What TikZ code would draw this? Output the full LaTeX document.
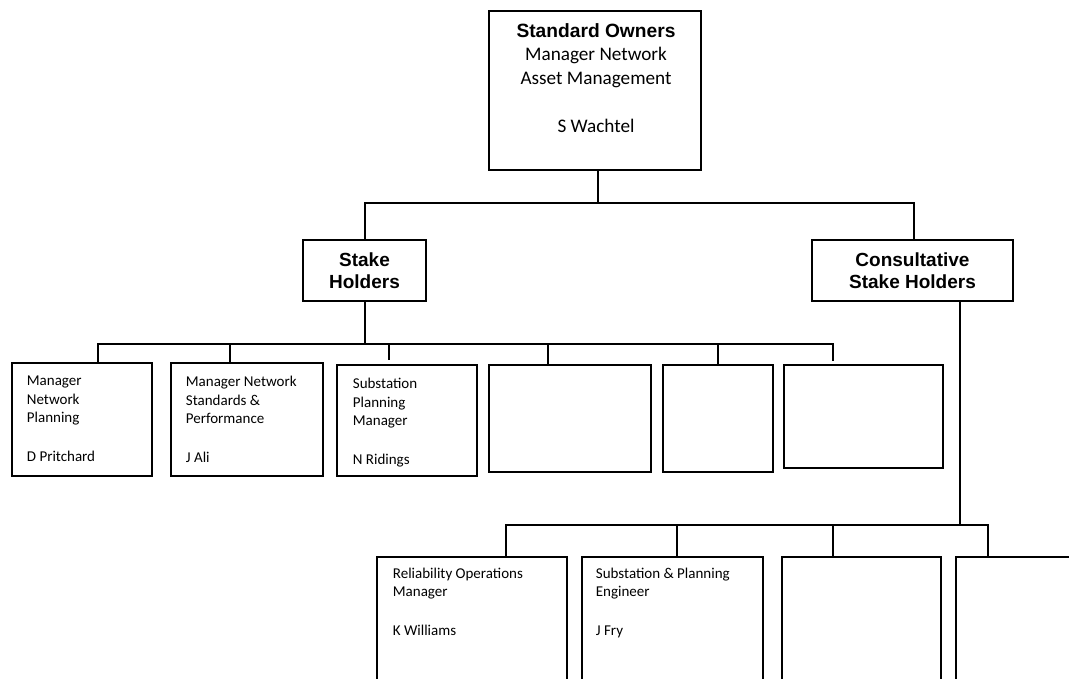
\documentclass[tikz,border=0pt]{standalone}
\usepackage{fontspec}
\setmainfont{Carlito}
\newfontfamily\headfont{Liberation Sans}
\begin{document}
\begin{tikzpicture}[x=1pt,y=-1pt,
  box/.style={draw, line width=2.6pt, inner sep=0pt},
  conn/.style={line width=2pt},
  txt/.style={font=\fontsize{15}{18.5}\selectfont, align=left, anchor=north west, inner sep=0pt},
  head/.style={font=\headfont\fontsize{19}{22}\selectfont\bfseries, align=center}]
\useasboundingbox (0,0) rectangle (1069,678);
\clip (0,0) rectangle (1069,678);
\fill[white] (0,0) rectangle (1069,678);
% top
\node[box, minimum width=212pt, minimum height=159pt] (top) at (595,90.5) {};
\node[font=\fontsize{19.2}{23.5}\selectfont, align=center, anchor=north, inner sep=0pt] (toptxt) at (596,20.5)
  {\strut{\headfont\bfseries Standard Owners}\\Manager Network\\Asset Management\\[25pt]S Wachtel};
% second level
\node[box, head, minimum width=123pt, minimum height=61pt] (sh) at (364.5,270.5) {Stake\\Holders};
\node[box, head, minimum width=201pt, minimum height=61pt] (csh) at (912.5,270.5) {Consultative\\Stake Holders};
% stakeholder row
\node[box, minimum width=140pt, minimum height=113pt] (b1) at (82,419.5) {};
\node[box, minimum width=152pt, minimum height=113pt] (b2) at (247,419.5) {};
\node[box, minimum width=140pt, minimum height=111pt] (b3) at (407,420.5) {};
\node[box, minimum width=162pt, minimum height=107pt] (b4) at (570,418.5) {};
\node[box, minimum width=110pt, minimum height=107pt] (b5) at (718,418.5) {};
\node[box, minimum width=159pt, minimum height=103pt] (b6) at (863.5,416.5) {};
\node[txt] (t1) at ([shift={(16,11)}]b1.north west) {\strut Manager\\Network\\Planning\\[20pt]D Pritchard};
\node[txt] (t2) at ([shift={(16,12)}]b2.north west) {\strut Manager Network\\Standards \&\\Performance\\[20pt]J Ali};
\node[txt] (t3) at ([shift={(17,12)}]b3.north west) {\strut Substation\\Planning\\Manager\\[20pt]N Ridings};
% consultative row
\node[box, minimum width=190pt, minimum height=162pt] (c1) at (472,638) {};
\node[box, minimum width=181pt, minimum height=162pt] (c2) at (672.5,638) {};
\node[box, minimum width=159pt, minimum height=162pt] (c3) at (861.5,638) {};
\node[box, minimum width=143pt, minimum height=162pt] (c4) at (1027.5,638) {};
\node[txt, font=\fontsize{15}{18}\selectfont] (u1) at ([shift={(17,10)}]c1.north west) {\strut Reliability Operations\\Manager\\[21pt]K Williams};
\node[txt, font=\fontsize{15}{18}\selectfont] (u2) at ([shift={(15,10)}]c2.north west) {\strut Substation \& Planning\\Engineer\\[21pt]J Fry};
% connectors
\draw[conn] ([xshift=3pt]top.south) -- ++(0,32) -| (sh.north);
\draw[conn] ([xshift=3pt]top.south) -- ++(0,32) -| ([xshift=1.5pt]csh.north);
\draw[conn] (sh.south) -- ++(0,42) -| ([xshift=16pt]b1.north);
\draw[conn] (sh.south) -- ++(0,42) -| ([xshift=-17pt]b2.north);
\draw[conn] (sh.south) -- ++(0,42) -| ([xshift=-18pt,yshift=4pt]b3.north);
\draw[conn] (sh.south) -- ++(0,42) -| ([xshift=-22pt]b4.north);
\draw[conn] (sh.south) -- ++(0,42) -| (b5.north);
\draw[conn] (sh.south) -- ++(0,42) -| ([xshift=-30.5pt,yshift=3pt]b6.north);
\draw[conn] ([xshift=47.5pt]csh.south) -- ++(0,223) -| ([xshift=34pt]c1.north);
\draw[conn] ([xshift=47.5pt]csh.south) -- ++(0,223) -| ([xshift=4.5pt]c2.north);
\draw[conn] ([xshift=47.5pt]csh.south) -- ++(0,223) -| ([xshift=-28.5pt]c3.north);
\draw[conn] ([xshift=47.5pt]csh.south) -- ++(0,223) -| ([xshift=-39.5pt]c4.north);
\end{tikzpicture}
\end{document}
